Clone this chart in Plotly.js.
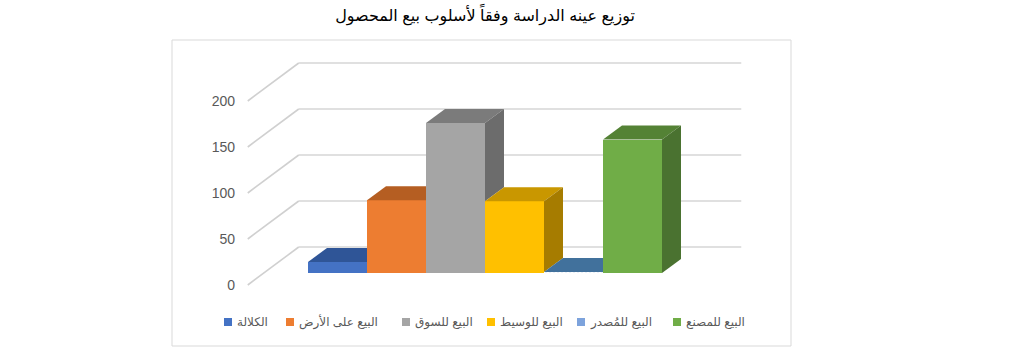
<!DOCTYPE html>
<html><head><meta charset="utf-8">
<script src="https://cdn.plot.ly/plotly-3.0.1.min.js"></script>
<style>html,body{margin:0;padding:0;background:#fff}#chart{width:1024px;height:359px}</style>
</head><body><div id="chart"></div>
<script>
// ---- data ----
const categories = ['الكلالة', 'البيع على الأرض', 'البيع للسوق', 'البيع للوسيط', 'البيع للمُصدر', 'البيع للمصنع'];
const values = [12, 79, 163, 78, 1, 145];
const yTicks = [0, 50, 100, 150, 200];
const chartTitle = 'توزيع عينه الدراسة وفقاً لأسلوب بيع المحصول';

// ---- styles ----
const frontColors = ['#4472C4', '#ED7D31', '#A5A5A5', '#FFC000', '#4F86C6', '#70AD47'];
const topColors   = ['#2F5597', '#B55E22', '#7B7B7B', '#C99700', '#41719C', '#548235'];
const sideColors  = ['#2B4F8C', '#A9561F', '#6C6C6C', '#A67C00', '#3A6690', '#4A7230'];
const legendSwatch = ['#4472C4', '#ED7D31', '#A5A5A5', '#FFC000', '#7DA3DC', '#70AD47'];
const legendPx = [224, 286, 402, 487, 577, 673]; // legend swatch left edges (px)

// ---- geometry (pixels) ----
const L = 236, R = 791, T = 40, B = 346, W = 1024, H = 359;
const pxX = 59, pxV = 0.92, cat0 = 337.5, front0 = 285;
const barDepthX = 19 / pxX, barDepthV = 14 / pxV;       // bar depth
const barOffX = 16 / pxX, barOffV = 12 / pxV;           // bar front relative to front plane
const wallDepthX = 51 / pxX, wallDepthV = 38 / pxV;     // full depth
const wallMargin = 0.75;

const xRange = [(L - cat0) / pxX, (R - cat0) / pxX];
const yRange = [(front0 - B) / pxV, (front0 - T) / pxV];
const idx = categories.map((c, i) => i);

const traces = [];
traces.push({
  type: 'bar', x: idx, y: values, base: barOffV, width: 1,
  xaxis: 'x', yaxis: 'y',
  marker: {color: frontColors, line: {width: 0},
    pattern: {shape: categories.map((c, i) => i === 4 ? '.' : ''), fgcolor: '#9DBEEA', size: 4, solidity: 0.3}},
  hovertext: categories, hoverinfo: 'text+y', textposition: 'none', showlegend: false
});

// top and side faces (oblique projection), computed from the values
values.forEach((v, i) => {
  const xl = i - 0.5, xr = i + 0.5;
  const vb = v + barOffV;
  const next = i + 1 < values.length ? values[i + 1] : null;
  let topX;
  if (next !== null && next > v) {
    topX = [xl, xr, xr, xl + barDepthX, xl];
  } else {
    topX = [xl, xr, xr + barDepthX, xl + barDepthX, xl];
  }
  const topY = [vb, vb, vb + barDepthV, vb + barDepthV, vb];
  traces.push({type: 'scatter', mode: 'lines', x: topX, y: topY, fill: 'toself',
    fillcolor: topColors[i], line: {width: 0}, hoverinfo: 'skip', showlegend: false});
  if (next === null || next < v) {
    const low = (next === null ? 0 : next) + barOffV;
    traces.push({type: 'scatter', mode: 'lines',
      x: [xr, xr + barDepthX, xr + barDepthX, xr, xr],
      y: [vb, vb + barDepthV, low + barDepthV, low, vb],
      fill: 'toself', fillcolor: sideColors[i], line: {width: 0}, hoverinfo: 'skip', showlegend: false});
  }
});

// gridlines: diagonal on the left + back wall
const xFL = -0.5 - barOffX - wallMargin;
const xBL = xFL + wallDepthX;
const xBR = values.length - 0.5 - barOffX + wallMargin + wallDepthX;
const shapes = [];
yTicks.forEach(t => {
  shapes.push({type: 'line', xref: 'x', yref: 'y', layer: 'below', x0: xFL, y0: t, x1: xBL, y1: t + wallDepthV,
    line: {color: '#D0D0D0', width: 1.6}});
  shapes.push({type: 'line', xref: 'x', yref: 'y', layer: 'below', x0: xBL, y0: t + wallDepthV, x1: xBR, y1: t + wallDepthV,
    line: {color: '#D6D6D6', width: 1.6}});
});
// chart frame
const pX = p => (p - L) / (R - L), pY = p => (B - p) / (B - T);
shapes.push({type: 'rect', xref: 'paper', yref: 'paper', x0: pX(172), x1: pX(791), y0: pY(346), y1: pY(40),
  line: {color: '#D9D9D9', width: 1}});

// legend (manual, spacing as in the original)
const annotations = [];
categories.forEach((c, i) => {
  const x = legendPx[i];
  shapes.push({type: 'rect', xref: 'paper', yref: 'paper', x0: pX(x), x1: pX(x + 8), y0: pY(326), y1: pY(318),
    fillcolor: legendSwatch[i], line: {width: 0}});
  annotations.push({xref: 'paper', yref: 'paper', x: pX(x + 11), y: pY(322), xanchor: 'left', yanchor: 'middle',
    text: c, showarrow: false, font: {size: 12, color: '#595959'}});
});

const layout = {
  width: W, height: H,
  margin: {l: L, r: W - R, t: T, b: H - B},
  paper_bgcolor: '#fff', plot_bgcolor: 'rgba(0,0,0,0)',
  font: {family: "Arial, 'Liberation Sans', 'DejaVu Sans', sans-serif", color: '#595959'},
  title: {text: chartTitle, x: 485 / W, xref: 'container', xanchor: 'center', y: 1 - 15 / H, yref: 'container', yanchor: 'middle',
    font: {size: 16, color: '#000'}},
  xaxis: {range: xRange, showgrid: false, zeroline: false, showline: false, showticklabels: false, fixedrange: true},
  yaxis: {range: yRange, tickvals: yTicks, showgrid: false, zeroline: false, showline: false, ticks: '',
    tickfont: {size: 14, color: '#595959'}, fixedrange: true},
  showlegend: false, bargap: 0,
  shapes: shapes, annotations: annotations
};
Plotly.newPlot('chart', traces, layout, {displayModeBar: false, staticPlot: true});
</script></body></html>
